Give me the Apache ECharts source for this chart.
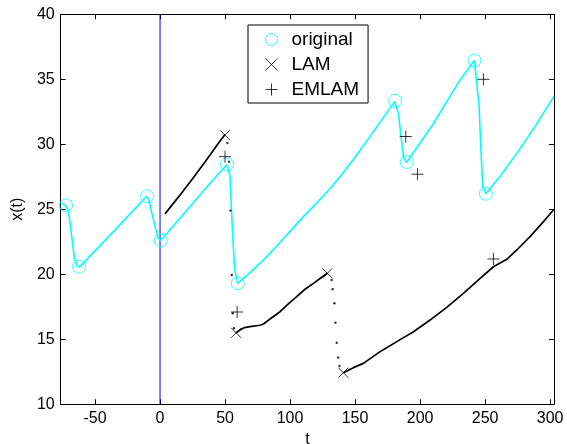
<!DOCTYPE html>
<html>
<head>
<meta charset="utf-8">
<script src="https://cdn.jsdelivr.net/npm/echarts@6/dist/echarts.min.js"></script>
<style>html,body{margin:0;padding:0;background:#fff}#c{width:567px;height:444px}</style>
</head>
<body>
<div id="c"></div>
<script>
// ---- data ----
const xTicks = [-50, 0, 50, 100, 150, 200, 250, 300];
const yTicks = [10, 15, 20, 25, 30, 35, 40];

// cyan "original" trajectory
const originalLine = [
  [-75.5, 25.45], [-72.8, 25.3], [-70.5, 24.9], [-68, 23.0], [-65.8, 21.2], [-63.8, 20.65], [-62.0, 20.55],
  [-50, 21.8], [-30, 23.9], [-10.3, 26.0],
  [-8.5, 25.7], [-4.4, 23.9], [-1.5, 22.8], [0.5, 22.6],
  [13, 24.05], [25.6, 25.5], [38, 26.95], [51.5, 28.45],
  [53.8, 27.6], [55.9, 22.9], [57.5, 20.3], [59.8, 19.3],
  [70, 20.2], [80, 21.15], [90, 22.2], [100, 23.3], [110, 24.4], [120, 25.45], [130, 26.5],
  [140, 27.7], [150, 29.0], [160, 30.4], [170, 31.8], [180.5, 33.3],
  [183.3, 32.4], [187.2, 29.05], [189.5, 28.6],
  [200, 30.1], [210.3, 31.6], [220, 33.2], [230.8, 34.95], [241.8, 36.45],
  [245.4, 32.9], [246.7, 29.8], [248.2, 26.74], [250.6, 26.2],
  [262, 27.6], [274.4, 29.3], [288, 31.3], [303, 33.7]
];
// cyan circles
const originalPoints = [
  [-72.3, 25.3], [-62.3, 20.58], [-9.9, 26.0], [0.5, 22.6], [51.5, 28.45],
  [59.8, 19.3], [180.8, 33.35], [189.7, 28.64], [241.8, 36.45], [250.6, 26.2]
];
// black LAM trajectory (solid parts, null = gap)
const lamLine = [
  [3.8, 24.65], [15, 26.05], [25, 27.35], [35, 28.7], [45, 30.1], [50, 30.75],
  null,
  [58.5, 15.5], [61.5, 15.72], [65, 15.9], [69.2, 15.97], [76.9, 16.08], [79.5, 16.18], [85.9, 16.66],
  [92.3, 17.12], [98.7, 17.72], [105.1, 18.28], [111.5, 18.85], [118, 19.3], [124.4, 19.77], [128.7, 20.08],
  null,
  [141, 12.43], [148.7, 12.82], [156.4, 13.15], [169.2, 14.05], [182.1, 14.82], [194.9, 15.58],
  [207.7, 16.48], [220.5, 17.46], [233.3, 18.54], [246.2, 19.69], [256.4, 20.58], [266.7, 21.15],
  [274.4, 21.87], [284.6, 22.9], [294.9, 24.05], [303, 25.0]
];
// black LAM dots in the fast drops
const lamDots = [
  [51.8, 30.1], [53.1, 28.66], [54.2, 24.9], [55.2, 19.95], [55.9, 17.0], [56.9, 15.85],
  [132, 19.56], [132.8, 18.85], [134.1, 17.77], [134.9, 16.28], [135.9, 14.74], [137, 13.6], [138, 12.95]
];
const lamMarks = [[50, 30.7], [58.5, 15.5], [128.7, 20.08], [141, 12.43]];
const emlamMarks = [[50, 29.05], [59.3, 17.1], [189, 30.6], [198, 27.7], [248.7, 35.0], [256.4, 21.18]];
const blueLine = [[0, 10], [0, 40]];

const X_PATH = 'path://M0,0L10,10M0,10L10,0';
const PLUS_PATH = 'path://M5,0L5,10M0,5L10,5';
const FONT = 'Liberation Sans';

const chart = echarts.init(document.getElementById('c'), null, {renderer: 'canvas'});
const axisCommon = {
  axisLine: {show: true, onZero: false, lineStyle: {color: '#000', width: 1}},
  splitLine: {show: false}
};
chart.setOption({
  animation: false,
  backgroundColor: '#fff',
  grid: {left: 60.7, top: 14.3, right: 13, bottom: 39.7, containLabel: false, outerBoundsMode: 'none'},
  legend: {
    orient: 'vertical', left: 248, top: 25,
    backgroundColor: '#fff', borderColor: '#000', borderWidth: 1, borderRadius: 0,
    padding: [5, 9, 4, 17], itemGap: 6, itemWidth: 12, itemHeight: 12,
    textStyle: {fontFamily: FONT, fontSize: 19, color: '#000', padding: [0, 0, 0, 9]},
    data: [
      {name: 'original', icon: 'circle', itemStyle: {color: 'transparent', borderColor: '#00ffff', borderWidth: 1}},
      {name: 'LAM', icon: X_PATH, itemStyle: {color: 'transparent', borderColor: '#000', borderWidth: 1}},
      {name: 'EMLAM', icon: PLUS_PATH, itemStyle: {color: 'transparent', borderColor: '#000', borderWidth: 1}}
    ]
  },
  xAxis: [
    Object.assign({}, axisCommon, {
      type: 'value', min: -76.4, max: 303, position: 'bottom',
      name: 't', nameLocation: 'middle', nameGap: 25,
      nameTextStyle: {fontFamily: FONT, fontSize: 16, color: '#000'},
      axisTick: {show: true, inside: true, length: 5, lineStyle: {color: '#000'}, customValues: xTicks},
      axisLabel: {fontFamily: FONT, fontSize: 16, color: '#000', margin: 6, customValues: xTicks}
    }),
    Object.assign({}, axisCommon, {
      type: 'value', min: -76.4, max: 303, position: 'top',
      axisTick: {show: true, inside: true, length: 5, lineStyle: {color: '#000'}, customValues: xTicks},
      axisLabel: {show: false}
    })
  ],
  yAxis: [
    Object.assign({}, axisCommon, {
      type: 'value', min: 10, max: 40, interval: 5, position: 'left',
      name: 'x(t)', nameLocation: 'middle', nameGap: 35, nameRotate: 90,
      nameTextStyle: {fontFamily: FONT, fontSize: 16, color: '#000'},
      axisTick: {show: true, inside: true, length: 5, lineStyle: {color: '#000'}},
      axisLabel: {fontFamily: FONT, fontSize: 16, color: '#000', margin: 6}
    }),
    Object.assign({}, axisCommon, {
      type: 'value', min: 10, max: 40, interval: 5, position: 'right',
      axisTick: {show: true, inside: true, length: 5, lineStyle: {color: '#000'}},
      axisLabel: {show: false}
    })
  ],
  series: [
    {type: 'line', data: blueLine, showSymbol: false, symbol: 'none', silent: true,
     lineStyle: {color: '#0000ff', width: 1}, z: 1},
    {type: 'line', name: 'origLine', data: originalLine, showSymbol: false, symbol: 'none',
     lineStyle: {color: '#00ffff', width: 1.6}, z: 2},
    {type: 'scatter', name: 'original', data: originalPoints, symbol: 'circle', symbolSize: 13,
     itemStyle: {color: 'transparent', borderColor: '#00ffff', borderWidth: 1}, z: 3},
    {type: 'line', name: 'lamLine', data: lamLine, showSymbol: false, symbol: 'none', connectNulls: false,
     lineStyle: {color: '#000', width: 1.7}, z: 4},
    {type: 'scatter', name: 'lamDots', data: lamDots, symbol: 'circle', symbolSize: 2.4,
     itemStyle: {color: '#000'}, z: 4},
    {type: 'scatter', name: 'LAM', data: lamMarks, symbol: X_PATH, symbolSize: 10,
     itemStyle: {color: 'transparent', borderColor: '#000', borderWidth: 1}, z: 5},
    {type: 'scatter', name: 'EMLAM', data: emlamMarks, symbol: PLUS_PATH, symbolSize: 12,
     itemStyle: {color: 'transparent', borderColor: '#000', borderWidth: 1}, z: 5}
  ]
});
</script>
</body>
</html>
